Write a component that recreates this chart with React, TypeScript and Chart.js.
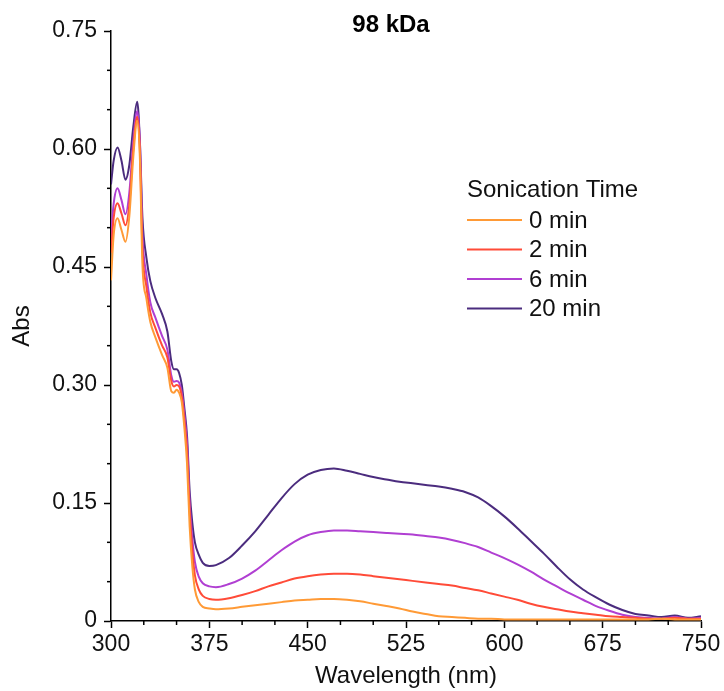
import React, { useEffect, useRef } from "react";
import { Chart, registerables } from "chart.js";

Chart.register(...registerables);

const wavelengths = [300, 302, 305, 308, 311, 314, 317, 320, 322, 324, 327, 330, 334, 339, 343, 346, 348, 350, 352, 354, 356, 358, 360, 362, 364, 367, 370, 375, 380, 390, 400, 410, 420, 430, 440, 450, 460, 470, 480, 490, 500, 510, 520, 530, 540, 550, 560, 570, 580, 590, 600, 610, 620, 630, 640, 650, 660, 670, 680, 690, 700, 710, 720, 730, 740, 750];

const min0 = [0.433, 0.490, 0.512, 0.497, 0.482, 0.515, 0.590, 0.636, 0.590, 0.452, 0.410, 0.380, 0.360, 0.338, 0.322, 0.292, 0.290, 0.294, 0.290, 0.278, 0.245, 0.200, 0.120, 0.070, 0.040, 0.024, 0.018, 0.016, 0.015, 0.016, 0.018, 0.020, 0.022, 0.024, 0.026, 0.027, 0.028, 0.028, 0.027, 0.025, 0.022, 0.019, 0.016, 0.012, 0.009, 0.006, 0.005, 0.004, 0.003, 0.003, 0.002, 0.002, 0.002, 0.002, 0.002, 0.002, 0.002, 0.002, 0.002, 0.002, 0.002, 0.002, 0.003, 0.002, 0.002, 0.002];

const min2 = [0.468, 0.512, 0.531, 0.518, 0.503, 0.530, 0.600, 0.641, 0.600, 0.472, 0.425, 0.392, 0.372, 0.350, 0.335, 0.305, 0.298, 0.300, 0.298, 0.285, 0.255, 0.215, 0.140, 0.090, 0.058, 0.040, 0.032, 0.028, 0.027, 0.029, 0.033, 0.038, 0.044, 0.049, 0.054, 0.057, 0.059, 0.060, 0.060, 0.059, 0.057, 0.055, 0.053, 0.051, 0.049, 0.047, 0.045, 0.042, 0.039, 0.035, 0.031, 0.027, 0.022, 0.018, 0.015, 0.012, 0.010, 0.008, 0.006, 0.005, 0.004, 0.003, 0.003, 0.004, 0.003, 0.003];

const min6 = [0.488, 0.530, 0.550, 0.535, 0.517, 0.545, 0.610, 0.648, 0.610, 0.490, 0.440, 0.405, 0.385, 0.362, 0.345, 0.312, 0.304, 0.305, 0.303, 0.290, 0.262, 0.225, 0.150, 0.105, 0.075, 0.056, 0.048, 0.044, 0.043, 0.047, 0.054, 0.064, 0.077, 0.090, 0.101, 0.109, 0.113, 0.115, 0.115, 0.114, 0.113, 0.112, 0.111, 0.110, 0.108, 0.106, 0.103, 0.099, 0.094, 0.087, 0.080, 0.072, 0.063, 0.053, 0.044, 0.035, 0.027, 0.019, 0.013, 0.008, 0.005, 0.004, 0.003, 0.005, 0.003, 0.004];

const min20 = [0.555, 0.585, 0.602, 0.585, 0.561, 0.580, 0.628, 0.660, 0.611, 0.512, 0.462, 0.432, 0.410, 0.390, 0.368, 0.330, 0.320, 0.320, 0.315, 0.300, 0.270, 0.235, 0.165, 0.125, 0.100, 0.084, 0.074, 0.070, 0.071, 0.080, 0.096, 0.114, 0.135, 0.156, 0.174, 0.186, 0.192, 0.194, 0.191, 0.187, 0.183, 0.180, 0.177, 0.175, 0.173, 0.171, 0.168, 0.164, 0.157, 0.146, 0.133, 0.118, 0.102, 0.086, 0.069, 0.053, 0.040, 0.030, 0.021, 0.014, 0.009, 0.007, 0.005, 0.007, 0.004, 0.006];

const seriesNames = ["0 min", "2 min", "6 min", "20 min"];
const seriesColors = ["#ff9a36", "#ff4b38", "#b03fd2", "#4b2c7e"];
const seriesValues = [min0, min2, min6, min20];

const chartTitle = "98 kDa";
const legendTitle = "Sonication Time";
const xTitle = "Wavelength (nm)";
const yTitle = "Abs";
const FONT = "'Liberation Sans', Arial, sans-serif";

export default function App() {
  const ref = useRef<HTMLCanvasElement | null>(null);

  useEffect(() => {
    document.body.style.margin = "0";
    document.body.style.overflow = "hidden";
    const canvas = ref.current;
    if (!canvas) return;

    const decorations = {
      id: "decorations",
      afterDraw(chart: any) {
        const ctx = chart.ctx;
        const xs = chart.scales.x;
        const ys = chart.scales.y;
        const area = chart.chartArea;
        ctx.save();
        // minor ticks
        ctx.strokeStyle = "#000";
        ctx.lineWidth = 1.5;
        for (let v = 0.05; v < 0.75; v += 0.05) {
          const r = Math.round(v * 100);
          if (r % 15 === 0) continue;
          const py = ys.getPixelForValue(r / 100);
          ctx.beginPath();
          ctx.moveTo(area.left - 4, py);
          ctx.lineTo(area.left, py);
          ctx.stroke();
        }
        for (let v = 325; v < 750; v += 25) {
          if ((v - 300) % 75 === 0) continue;
          const px = xs.getPixelForValue(v);
          ctx.beginPath();
          ctx.moveTo(px, area.bottom);
          ctx.lineTo(px, area.bottom + 4);
          ctx.stroke();
        }
        // title
        ctx.fillStyle = "#000";
        ctx.font = "bold 24px " + FONT;
        ctx.textAlign = "center";
        ctx.textBaseline = "middle";
        ctx.fillText(chartTitle, 391, 25);
        // legend
        ctx.textAlign = "left";
        ctx.font = "24px " + FONT;
        ctx.fillStyle = "#111";
        ctx.fillText(legendTitle, 467, 190);
        const rows = [220, 249.5, 279, 308.5];
        chart.data.datasets.forEach((ds: any, i: number) => {
          ctx.strokeStyle = ds.borderColor;
          ctx.lineWidth = 2;
          ctx.beginPath();
          ctx.moveTo(467, rows[i]);
          ctx.lineTo(522, rows[i]);
          ctx.stroke();
          ctx.fillStyle = "#111";
          ctx.fillText(ds.label, 529, rows[i] + 1);
        });
        ctx.restore();
      },
    };

    const chart = new Chart(canvas, {
      type: "line",
      data: {
        datasets: seriesValues.map((vals, i) => ({
          label: seriesNames[i],
          data: wavelengths.map((w, j) => ({ x: w, y: vals[j] })),
          borderColor: seriesColors[i],
          backgroundColor: seriesColors[i],
          borderWidth: 2,
          pointRadius: 0,
          cubicInterpolationMode: "monotone" as const,
          fill: false,
        })),
      },
      options: {
        responsive: false,
        animation: false,
        layout: { padding: { top: 31, right: 23, left: 0, bottom: 0 } },
        plugins: {
          legend: { display: false },
          title: { display: false },
          tooltip: { enabled: false },
        },
        scales: {
          x: {
            type: "linear",
            min: 300,
            max: 750,
            afterFit: (s: any) => {
              s.height = 70;
            },
            border: { display: true, color: "#000", width: 1.5 },
            grid: { drawOnChartArea: false, drawTicks: true, tickLength: 7, tickColor: "#000", tickWidth: 1.5 },
            ticks: {
              stepSize: 75,
              color: "#111",
              padding: 3,
              maxRotation: 0,
              font: { size: 23, family: FONT },
            },
            title: {
              display: true,
              text: xTitle,
              color: "#111",
              padding: 0,
              font: { size: 24, family: FONT },
            },
          },
          y: {
            type: "linear",
            min: 0,
            max: 0.75,
            afterFit: (s: any) => {
              s.width = 111;
            },
            border: { display: true, color: "#000", width: 1.5 },
            grid: { drawOnChartArea: false, drawTicks: true, tickLength: 7, tickColor: "#000", tickWidth: 1.5 },
            ticks: {
              stepSize: 0.15,
              color: "#111",
              padding: 7,
              font: { size: 23, family: FONT },
              callback: (v: any) => {
                const n = Number(v);
                return Math.abs(n) < 1e-9 ? "0" : n.toFixed(2);
              },
            },
            title: {
              display: true,
              text: yTitle,
              color: "#111",
              padding: { top: 8, bottom: 0 },
              font: { size: 24, family: FONT },
            },
          },
        },
      },
      plugins: [decorations],
    });

    return () => chart.destroy();
  }, []);

  return (
    <div style={{ width: 724, height: 691 }}>
      <canvas ref={ref} width={724} height={691} style={{ display: "block" }} />
    </div>
  );
}
